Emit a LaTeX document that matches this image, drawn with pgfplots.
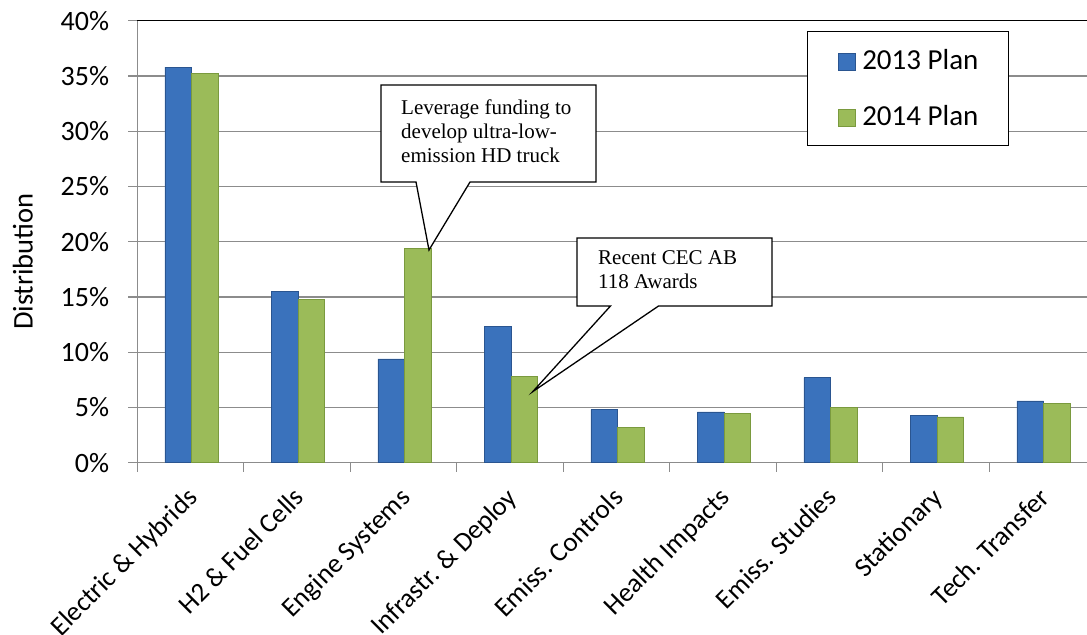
\documentclass[border=0pt]{standalone}
\usepackage{pgfplots}
\pgfplotsset{compat=1.18}
\usepackage{fontspec}
\setmainfont{Carlito}
\newfontfamily\timesf{Liberation Serif}
\definecolor{blueF}{HTML}{3A72BC}
\definecolor{blueE}{HTML}{2A5590}
\definecolor{greenF}{HTML}{9BBB59}
\definecolor{greenE}{HTML}{7A9A3E}
\definecolor{gridc}{HTML}{8C8C8C}
\pgfplotsset{mylegend/.style={legend image code/.code={\draw[##1, line width=0.6pt] (0pt,-10.5pt) rectangle (17pt,6.5pt);}}}
\begin{document}
\begin{tikzpicture}
\begin{axis}[name=ax,
  scale only axis, width=958.5pt, height=442pt,
  xmin=-0.5, xmax=8.5, ymin=0, ymax=40,
  clip mode=individual,
  axis x line*=bottom, axis y line*=left,
  axis line style={gridc, line width=1.2pt},
  ytick={0,5,...,40},
  yticklabel={\pgfmathprintnumber{\tick}\%},
  /pgf/number format/assume math mode=true,
  ymajorgrids, grid style={gridc, line width=1.2pt},
  tick style={gridc, line width=1.2pt},
  major tick length=9pt,
  tick align=outside,
  xtick={-0.5,0.5,...,8.5}, xticklabels={},
  extra x ticks={0,1,2,3,4,5,6,7,8},
  extra x tick labels={Electric \& Hybrids, H2 \& Fuel Cells, Engine Systems, Infrastr. \& Deploy, Emiss. Controls, Health Impacts, Emiss. Studies, Stationary, Tech. Transfer},
  extra x tick style={tick style={draw=none}, grid=none},
  xticklabel style={rotate=45, anchor=north east, inner sep=0pt, font=\fontsize{27}{32}\selectfont, xshift=-13.6pt, yshift=-6.5pt},
  yticklabel style={font=\fontsize{28}{33}\selectfont, inner sep=0pt, xshift=-19pt},
  ylabel={Distribution},
  every axis y label/.style={at={(axis description cs:0,0.455)}, xshift=-114.5pt, rotate=90, anchor=center, font=\fontsize{28.5}{33}\selectfont},
  legend style={at={(rel axis cs:0.6987,0.9767)}, anchor=north west, draw=black, line width=1.3pt, fill=white,
    inner xsep=30pt, inner ysep=19pt, row sep=36pt, font=\fontsize{29}{34}\selectfont,
    nodes={inner sep=0pt, text height=18.5pt, text depth=0pt},
    /tikz/every odd column/.append style={column sep=7pt}},
  legend cell align=left,
]
\addplot[ybar, bar width=0.25, bar shift=-0.115, draw=blueE, line width=0.6pt, fill=blueF, mylegend]
  coordinates {(0,35.8) (1,15.5) (2,9.4) (3,12.3) (4,4.8) (5,4.6) (6,7.7) (7,4.25) (8,5.6)};
\addplot[ybar, bar width=0.25, bar shift=0.135, draw=greenE, line width=0.6pt, fill=greenF, mylegend]
  coordinates {(0,35.2) (1,14.8) (2,19.4) (3,7.8) (4,3.2) (5,4.45) (6,5.0) (7,4.15) (8,5.4)};
\legend{2013 Plan, 2014 Plan}
\draw[black, line width=1.5pt] (rel axis cs:0,1) -- (rel axis cs:1,1);
% callout 1
\draw[black, line width=1.3pt, fill=white] (axis cs:1.788,34.18) -- (axis cs:3.807,34.18) -- (axis cs:3.807,25.40)
  -- (axis cs:2.624,25.40) -- (axis cs:2.239,19.25) -- (axis cs:2.117,25.40) -- (axis cs:1.788,25.40) -- cycle;
\node[anchor=base west, inner sep=0pt, font=\timesf\fontsize{21}{24}\selectfont] at (axis cs:1.976,31.47) {Leverage funding to};
\node[anchor=base west, inner sep=0pt, font=\timesf\fontsize{21}{24}\selectfont] at (axis cs:1.976,29.30) {develop ultra-low-};
\node[anchor=base west, inner sep=0pt, font=\timesf\fontsize{21}{24}\selectfont] at (axis cs:1.976,27.13) {emission HD truck};
% callout 2
\draw[black, line width=1.3pt, fill=white] (axis cs:3.629,20.33) -- (axis cs:5.459,20.33) -- (axis cs:5.459,14.18)
  -- (axis cs:4.394,14.18) -- (axis cs:3.213,6.43) -- (axis cs:3.943,14.18) -- (axis cs:3.629,14.18) -- cycle;
\node[anchor=base west, inner sep=0pt, font=\timesf\fontsize{21}{24}\selectfont] at (axis cs:3.826,17.98) {Recent CEC AB};
\node[anchor=base west, inner sep=0pt, font=\timesf\fontsize{21}{24}\selectfont] at (axis cs:3.826,15.81) {118 Awards};
\end{axis}
\pgfresetboundingbox
\path[use as bounding box] ([shift={(-137.3pt,-171.3pt)}]ax.south west) rectangle ([shift={(-8.8pt,20.7pt)}]ax.north east);
\end{tikzpicture}
\end{document}
